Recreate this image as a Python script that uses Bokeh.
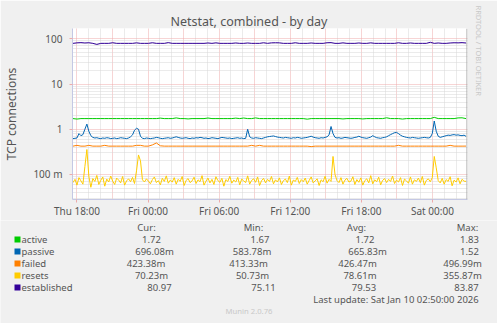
import pandas as pd
from bokeh.plotting import figure
from bokeh.layouts import column
from bokeh.models import (FixedTicker, DatetimeTickFormatter, Span, Range1d, Title)
from bokeh.core.properties import value
from bokeh.embed import file_html
from bokeh.resources import INLINE

FONT = "Noto Sans"
TXT = "#555555"
LIGHT = "#c8c8c8"
MAJ = "#eeaaaa"
MIN = "#d6d6d6"
AXC = "#c4c8e4"
BG = "#F0F0F0"

data_start = "2026-01-08 17:40"
data_end = "2026-01-10 02:50"
view_start = "2026-01-08 17:37:30"
view_end = "2026-01-10 02:57:30"
border_at = "2026-01-10 02:55:00"

# ---- series ----
active = [
    1.72, 1.68, 1.72, 1.72, 1.72, 1.72, 1.72, 1.72, 1.72, 1.72,
    1.72, 1.72, 1.72, 1.72, 1.72, 1.72, 1.72, 1.72, 1.72, 1.72,
    1.72, 1.72, 1.76, 1.72, 1.72, 1.72, 1.78, 1.72, 1.72, 1.69,
    1.72, 1.72, 1.72, 1.72, 1.77, 1.72, 1.72, 1.72, 1.72, 1.72,
    1.72, 1.76, 1.72, 1.77, 1.72, 1.72, 1.78, 1.72, 1.72, 1.72,
    1.72, 1.72, 1.72, 1.72, 1.72, 1.72, 1.72, 1.72, 1.72, 1.67,
    1.72, 1.72, 1.72, 1.72, 1.72, 1.72, 1.72, 1.72, 1.69, 1.72,
    1.72, 1.72, 1.72, 1.69, 1.72, 1.72, 1.72, 1.72, 1.72, 1.79,
    1.72, 1.72, 1.72, 1.68, 1.72, 1.72, 1.72, 1.72, 1.72, 1.72,
    1.72, 1.83, 1.72, 1.72, 1.72, 1.72, 1.72, 1.78, 1.79, 1.72,
]
passive = [
    0.62, 0.63, 0.64, 0.80, 0.72, 0.76, 1.00, 1.30, 0.90, 0.72, 0.66, 0.64, 0.65, 0.63, 0.62, 0.64, 0.63, 0.65, 0.64, 0.62,
    0.63, 0.64, 0.62, 0.63, 0.65, 0.64, 0.63, 0.62, 0.64, 0.68, 0.75, 0.95, 1.05, 1.00, 0.70, 0.63, 0.62, 0.64, 0.63, 0.62,
    0.63, 0.64, 0.66, 0.65, 0.63, 0.62, 0.63, 0.64, 0.65, 0.63, 0.64, 0.66, 0.68, 0.66, 0.64, 0.63, 0.64, 0.65, 0.63, 0.62,
    0.64, 0.63, 0.65, 0.64, 0.66, 0.65, 0.63, 0.64, 0.62, 0.63, 0.65, 0.64, 0.63, 0.62, 0.64, 0.66, 0.65, 0.64, 0.63, 0.64,
    0.62, 0.63, 0.64, 0.65, 0.63, 0.64, 0.62, 0.63, 1.00, 0.68, 0.64, 0.63, 0.65, 0.64, 0.63, 0.62, 0.64, 0.66, 0.68, 0.69,
    0.70, 0.71, 0.69, 0.67, 0.66, 0.65, 0.64, 0.66, 0.65, 0.64, 0.63, 0.65, 0.64, 0.66, 0.65, 0.63, 0.64, 0.65, 0.66, 0.68,
    0.70, 0.67, 0.65, 0.64, 0.63, 0.65, 0.64, 0.66, 0.68, 0.75, 1.15, 0.80, 0.66, 0.64, 0.65, 0.63, 0.64, 0.66, 0.65, 0.64,
    0.63, 0.64, 0.66, 0.67, 0.70, 0.67, 0.65, 0.64, 0.63, 0.65, 0.67, 0.72, 0.68, 0.65, 0.64, 0.63, 0.65, 0.66, 0.68, 0.72,
    0.76, 0.80, 0.84, 0.85, 0.80, 0.74, 0.70, 0.68, 0.66, 0.65, 0.64, 0.66, 0.65, 0.64, 0.63, 0.64, 0.65, 0.66, 0.65, 0.64,
    0.66, 0.80, 1.52, 0.90, 0.70, 0.66, 0.68, 0.70, 0.72, 0.74, 0.73, 0.75, 0.76, 0.74, 0.75, 0.73, 0.72, 0.74, 0.696,
]
failed = [
    0.423, 0.44, 0.423, 0.423, 0.44, 0.423, 0.423, 0.423, 0.44, 0.423,
    0.423, 0.423, 0.423, 0.423, 0.423, 0.423, 0.44, 0.44, 0.423, 0.423,
    0.45, 0.497, 0.43, 0.423, 0.423, 0.423, 0.423, 0.423, 0.423, 0.423,
    0.423, 0.423, 0.423, 0.423, 0.423, 0.423, 0.423, 0.423, 0.423, 0.423,
    0.423, 0.423, 0.423, 0.423, 0.423, 0.44, 0.423, 0.44, 0.423, 0.423,
    0.423, 0.423, 0.423, 0.423, 0.423, 0.423, 0.423, 0.423, 0.423, 0.423,
    0.413, 0.423, 0.423, 0.423, 0.423, 0.423, 0.423, 0.423, 0.423, 0.423,
    0.423, 0.423, 0.423, 0.423, 0.423, 0.423, 0.423, 0.423, 0.423, 0.423,
    0.423, 0.423, 0.44, 0.423, 0.423, 0.423, 0.423, 0.423, 0.423, 0.423,
    0.423, 0.423, 0.423, 0.423, 0.423, 0.44, 0.423, 0.423, 0.423, 0.4234,
]
resets = [
    0.066, 0.078, 0.058, 0.085, 0.072, 0.061, 0.150, 0.356, 0.090, 0.052, 0.081, 0.070, 0.095, 0.060, 0.074, 0.088, 0.055, 0.079, 0.068, 0.092,
    0.071, 0.060, 0.083, 0.075, 0.065, 0.090, 0.058, 0.072, 0.080, 0.069, 0.086, 0.063, 0.120, 0.270, 0.200, 0.076, 0.068, 0.080, 0.071, 0.062,
    0.077, 0.088, 0.066, 0.073, 0.059, 0.082, 0.070, 0.093, 0.064, 0.075, 0.068, 0.085, 0.061, 0.078, 0.070, 0.090, 0.057, 0.074, 0.081, 0.066,
    0.072, 0.087, 0.063, 0.076, 0.069, 0.094, 0.058, 0.071, 0.083, 0.065, 0.078, 0.060, 0.089, 0.073, 0.067, 0.082, 0.055, 0.077, 0.070, 0.091,
    0.064, 0.075, 0.068, 0.086, 0.059, 0.079, 0.072, 0.066, 0.093, 0.061, 0.074, 0.080, 0.067, 0.088, 0.057, 0.073, 0.082, 0.065, 0.078, 0.070,
    0.090, 0.062, 0.076, 0.068, 0.084, 0.060, 0.073, 0.079, 0.066, 0.092, 0.058, 0.075, 0.070, 0.086, 0.063, 0.077, 0.069, 0.083, 0.061, 0.074,
    0.088, 0.065, 0.072, 0.080, 0.057, 0.076, 0.069, 0.091, 0.064, 0.078, 0.070, 0.250, 0.100, 0.073, 0.066, 0.085, 0.061, 0.075, 0.082, 0.068,
    0.071, 0.089, 0.060, 0.077, 0.067, 0.084, 0.058, 0.073, 0.080, 0.065, 0.094, 0.062, 0.076, 0.069, 0.087, 0.059, 0.074, 0.081, 0.066, 0.078,
    0.070, 0.092, 0.063, 0.075, 0.068, 0.085, 0.057, 0.079, 0.072, 0.064, 0.088, 0.061, 0.076, 0.070, 0.083, 0.066, 0.090, 0.058, 0.074, 0.080,
    0.069, 0.085, 0.250, 0.140, 0.073, 0.065, 0.082, 0.061, 0.077, 0.070, 0.089, 0.056, 0.075, 0.068, 0.084, 0.062, 0.078, 0.071, 0.0702,
]
established = [
    79.4, 81.5, 82.5, 81.0, 82.0, 79.4, 75.11, 79.4, 79.4, 79.4,
    82.0, 79.4, 79.4, 79.4, 79.4, 79.4, 81.5, 79.4, 79.4, 79.4,
    82.0, 79.4, 79.4, 79.4, 82.5, 79.4, 79.4, 79.4, 79.4, 79.4,
    79.4, 79.4, 79.4, 79.4, 81.0, 79.4, 81.5, 79.4, 79.4, 79.4,
    79.4, 81.0, 79.4, 79.4, 81.0, 79.4, 79.4, 79.4, 82.0, 79.4,
    81.5, 82.0, 81.5, 79.4, 79.4, 79.4, 82.0, 79.4, 79.4, 79.4,
    81.0, 79.4, 79.4, 79.4, 82.0, 82.5, 79.4, 79.4, 81.5, 79.4,
    79.4, 79.4, 81.0, 79.4, 79.4, 81.5, 79.4, 79.4, 79.4, 79.4,
    79.4, 79.4, 82.0, 79.4, 79.4, 81.0, 79.4, 79.4, 79.4, 79.4,
    83.87, 79.4, 81.0, 79.4, 79.4, 81.0, 82.0, 81.5, 82.5, 80.97,
]

names = ["active", "passive", "failed", "resets", "established"]
colors = ["#00CC00", "#0066B3", "#FF8000", "#FFCC00", "#330099"]
series = [active, passive, failed, resets, established]

headers = ["Cur:", "Min:", "Avg:", "Max:"]
cur_vals = ["1.72", "696.08m", "423.38m", "70.23m", "80.97"]
min_vals = ["1.67", "583.78m", "413.33m", "50.73m", "75.11"]
avg_vals = ["1.72", "665.83m", "426.47m", "78.61m", "79.53"]
max_vals = ["1.83", "1.52", "496.99m", "355.87m", "83.87"]

y_major = [0.1, 1, 10, 100]
y_labels = ["100 m", "1", "10", "100"]
y_minor = [0.03, 0.04, 0.05, 0.06, 0.07, 0.08, 0.09,
           0.2, 0.3, 0.4, 0.5, 0.6, 0.7, 0.8, 0.9,
           2, 3, 4, 5, 6, 7, 8, 9,
           20, 30, 40, 50, 60, 70, 80, 90]

title_text = "Netstat, combined - by day"
ylabel_text = "TCP connections"
update_text = "Last update: Sat Jan 10 02:50:00 2026"
munin_text = "Munin 2.0.76"
rrd_text = "RRDTOOL / TOBI OETIKER"


def ms(s):
    return pd.Timestamp(s).value / 1e6


x0, x1 = ms(view_start), ms(view_end)
y0, y1 = 0.02790, 169.2

TOP_H = 220
p = figure(width=497, height=TOP_H, x_axis_type="datetime", y_axis_type="log",
           x_range=Range1d(x0, x1), y_range=Range1d(y0, y1),
           output_backend="svg", toolbar_location=None,
           min_border_left=67, min_border_right=30,
           min_border_top=28, min_border_bottom=TOP_H - 202)
p.frame_align = False
p.background_fill_color = "white"
p.border_fill_color = BG
p.outline_line_color = None

p.title.text = title_text
p.title.align = "left"
p.title.offset = 98
p.title.standoff = -2
p.title.text_font = FONT
p.title.text_font_size = "12.5px"
p.title.text_font_style = "normal"
p.title.text_color = TXT

p.add_layout(Title(text=rrd_text, align="left", offset=-23, standoff=12,
                   text_font=FONT, text_font_size="7.5px", text_font_style="normal",
                   text_color=LIGHT), "right")

for vals, c in zip(series, colors):
    t = pd.date_range(data_start, data_end, periods=len(vals))
    p.line(t, vals, line_color=c, line_width=1)

# ---- ticks / grid ----
six_h = [ms(t) for t in pd.date_range("2026-01-08 18:00", "2026-01-10 00:00", freq="6h")]
three_h = [ms(t) for t in pd.date_range("2026-01-08 18:00", "2026-01-10 00:00", freq="3h")]
hourly = [ms(t) for t in pd.date_range("2026-01-08 18:00", "2026-01-10 02:00", freq="1h")]
hourly = [h for h in hourly if h not in three_h]

p.xaxis.ticker = FixedTicker(ticks=six_h)
p.xgrid.ticker = FixedTicker(ticks=three_h, minor_ticks=hourly)
p.xaxis.formatter = DatetimeTickFormatter(hours="%a %H:%M", days="%a %H:%M",
                                          minutes="%a %H:%M", hourmin="%a %H:%M")
p.yaxis.ticker = FixedTicker(ticks=y_major, minor_ticks=y_minor)
p.yaxis.major_label_overrides = dict(zip(y_major, y_labels))

for g in (p.xgrid, p.ygrid):
    g.grid_line_color = MAJ
    g.grid_line_dash = "1 1"
    g.minor_grid_line_color = MIN
    g.minor_grid_line_dash = "1 1"

for ax in (p.xaxis, p.yaxis):
    ax.axis_line_color = AXC
    ax.major_tick_line_color = MAJ
    ax.major_tick_in = 0
    ax.major_tick_out = 3
    ax.minor_tick_line_color = None
    ax.major_label_text_font = FONT
    ax.major_label_text_font_size = "10px"
    ax.major_label_text_color = TXT
p.xaxis.major_label_standoff = 1
p.yaxis.major_label_standoff = 6
p.yaxis.axis_label = ylabel_text
p.yaxis.axis_label_text_font = FONT
p.yaxis.axis_label_text_font_size = "12px"
p.yaxis.axis_label_text_font_style = "normal"
p.yaxis.axis_label_text_color = TXT
p.yaxis.axis_label_standoff = 10

p.add_layout(Span(location=ms(border_at), dimension="height", line_color="#a0a0a0", line_width=1))

# ---- legend / statistics block (its data space is the canvas pixel space) ----
q = figure(width=497, height=323 - TOP_H, x_range=Range1d(0, 497), y_range=Range1d(323, TOP_H),
           output_backend="svg", toolbar_location=None,
           x_axis_location=None, y_axis_location=None, min_border=0)
q.frame_align = False
q.background_fill_color = BG
q.border_fill_color = BG
q.outline_line_color = None
q.grid.visible = False

row_y = [239, 251, 263, 275, 287]
head_x = [146, 253, 356, 467]
col_x = [
    [151, 154, 145.5, 151, 159],
    [259.5, 251.5, 248, 252, 263],
    [364.5, 367, 357, 359.5, 363.5],
    [469, 469, 462, 462, 466],
]


def txt(xs, ys, texts, size, color=TXT, align="left"):
    q.text(x=xs, y=ys, text=texts, text_font=value(FONT), text_font_size=value(f"{size}px"),
           text_color=color, text_align=align, text_baseline="middle")


txt(head_x, [227] * 4, headers, 9.5, align="center")
q.quad(left=[14] * 5, right=[20] * 5, top=[y - 3 for y in row_y], bottom=[y + 3 for y in row_y],
       fill_color=colors, line_color=None)
txt([21] * 5, row_y, names, 9.5)
for col, vals in enumerate([cur_vals, min_vals, avg_vals, max_vals]):
    txt(col_x[col], row_y, vals, 9.5, align="center")
txt([395.5], [299], [update_text], 9.5, align="center")
txt([248.5], [310], [munin_text], 7.7, color=LIGHT, align="center")

page = column(p, q, spacing=0)
open("out.html", "w").write(file_html(page, INLINE))
